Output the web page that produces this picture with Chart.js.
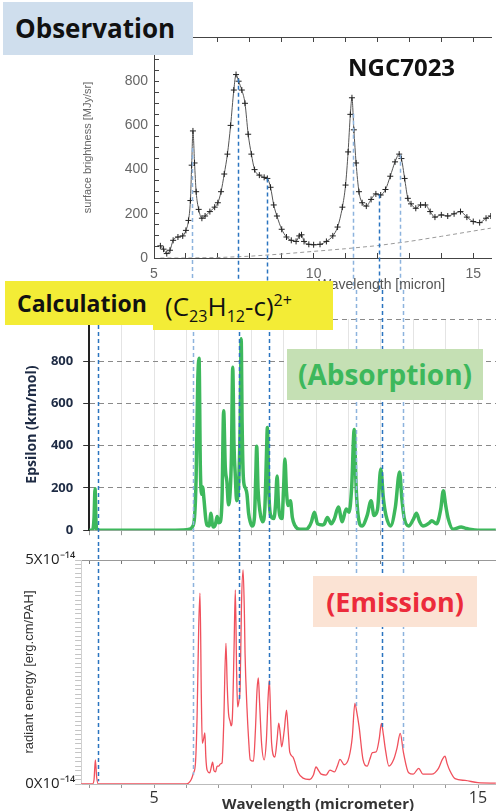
<!DOCTYPE html>
<html>
<head>
<meta charset="utf-8">
<script src="https://cdn.jsdelivr.net/npm/chart.js@4.4.1/dist/chart.umd.min.js"></script>
<style>
  html, body { margin: 0; padding: 0; background: #fff; }
  #page { position: relative; width: 496px; height: 811px; overflow: hidden; font-family: 'Open Sans', sans-serif; }
  canvas { position: absolute; left: 0; }
  .box { position: absolute; z-index: 5; box-sizing: border-box; white-space: nowrap; }
  .lbl { position: absolute; z-index: 3; white-space: nowrap; }
  sub, sup { font-size: 0.62em; line-height: 0; }
</style>
</head>
<body>
<div id="page">
  <canvas id="obsChart" width="496" height="290" style="top:0"></canvas>
  <canvas id="absChart" width="496" height="258" style="top:290px"></canvas>
  <canvas id="emiChart" width="496" height="263" style="top:548px"></canvas>

  <div class="lbl" style="left:318px; top:276px; font:14px 'Liberation Sans', Arial, sans-serif; color:#555;">Wavelength [micron]</div>
  <div class="lbl" style="left:222px; top:793px; font:bold 15px 'Open Sans', sans-serif; color:#333;">Wavelength (micrometer)</div>

  <div class="box" style="left:3px; top:2px; width:190px; height:53px; background:#cfdeed; font:bold 26px 'Open Sans'; line-height:53px; padding-left:12px; color:#111;">Observation</div>
  <div class="lbl" style="left:348px; top:50px; font:bold 24px 'Open Sans'; color:#111;">NGC7023</div>

  <div class="box" style="left:5px; top:281px; width:150px; height:44px; background:#f3ec36; font:bold 23px 'Open Sans'; line-height:44px; padding-left:12px; color:#111;">Calculation</div>
  <div class="box" style="left:153px; top:281px; width:180px; height:49px; background:#f3ec36; font:26px 'Open Sans'; line-height:50px; padding-left:12px; color:#111;">(C<sub>23</sub>H<sub>12</sub>-c)<sup>2+</sup></div>

  <div class="box" style="left:287px; top:349px; width:196px; height:51px; background:#c5e0b4; font:bold 28px 'Open Sans'; line-height:51px; text-align:center; color:#3db85c;">(Absorption)</div>
  <div class="box" style="left:313px; top:576px; width:164px; height:51px; background:#fbe3d4; font:bold 27px 'Open Sans'; line-height:51px; text-align:center; color:#ec2b3b;">(Emission)</div>
</div>

<script>
// ---- data ----
// observed spectrum NGC7023 (wavelength, MJy/sr)
const obsX = [5.2, 5.3, 5.4, 5.5, 5.6, 5.75, 5.9, 6.0, 6.08, 6.14, 6.18, 6.22, 6.27, 6.32, 6.4, 6.5, 6.6, 6.75, 6.9, 7.0,
  7.1, 7.2, 7.3, 7.4, 7.5, 7.57, 7.65, 7.75, 7.85, 7.95, 8.05, 8.15, 8.3, 8.45, 8.55, 8.65, 8.75, 8.85, 9.0, 9.15,
  9.3, 9.45, 9.55, 9.62, 9.7, 9.85, 10.0, 10.2, 10.4, 10.6, 10.75, 10.9, 11.0, 11.08, 11.15, 11.2, 11.26, 11.33, 11.42, 11.52,
  11.65, 11.8, 11.95, 12.1, 12.25, 12.4, 12.55, 12.68, 12.75, 12.85, 12.95, 13.05, 13.2, 13.35, 13.5, 13.65, 13.8, 14.0, 14.2, 14.4,
  14.6, 14.8, 15.0, 15.2, 15.4, 15.55];
const obsY = [55, 40, 20, 35, 80, 95, 100, 125, 170, 260, 420, 575, 430, 300, 220, 180, 190, 210, 230, 250,
  300, 380, 470, 600, 760, 830, 800, 760, 700, 560, 470, 400, 375, 365, 360, 320, 240, 190, 130, 95,
  80, 75, 100, 105, 75, 62, 60, 62, 75, 100, 140, 230, 330, 480, 650, 725, 580, 430, 300, 250,
  235, 265, 290, 285, 310, 370, 435, 470, 450, 360, 270, 245, 225, 240, 240, 210, 185, 195, 190, 200,
  210, 185, 165, 160, 180, 190];
// continuum (dashed)
const contX = [5.2, 6, 7, 8, 9, 10, 11, 12, 13, 14, 15, 15.55];
const contY = [0, 0, 2, 8, 18, 30, 42, 56, 75, 98, 122, 135];

// calculated absorption (km/mol)
const absX = [3.0, 3.1, 3.15, 3.18, 3.21, 3.25, 3.5, 4.5, 5.5, 6.0, 6.1, 6.18, 6.25, 6.3, 6.35, 6.39, 6.43, 6.47, 6.5, 6.54,
  6.6, 6.64, 6.7, 6.76, 6.8, 6.84, 6.9, 6.95, 7.0, 7.05, 7.1, 7.15, 7.2, 7.25, 7.3, 7.35, 7.39, 7.43, 7.47, 7.51,
  7.55, 7.58, 7.62, 7.66, 7.69, 7.72, 7.76, 7.82, 7.87, 7.92, 7.97, 8.03, 8.1, 8.14, 8.17, 8.21, 8.27, 8.35, 8.42, 8.47,
  8.5, 8.54, 8.6, 8.7, 8.75, 8.8, 8.84, 8.88, 8.95, 9.0, 9.04, 9.09, 9.14, 9.21, 9.27, 9.34, 9.5, 9.7, 9.8, 9.86,
  9.95, 10.05, 10.2, 10.26, 10.35, 10.47, 10.57, 10.69, 10.81, 10.93, 11.02, 11.1, 11.18, 11.24, 11.3, 11.42, 11.58, 11.7, 11.79, 11.9,
  12.0, 12.08, 12.16, 12.3, 12.45, 12.58, 12.65, 12.72, 12.86, 13.0, 13.1, 13.2, 13.3, 13.5, 13.57, 13.72, 13.85, 13.93, 14.0, 14.08,
  14.23, 14.48, 14.6, 14.79, 15.0, 15.55];
const absY = [0, 0, 60, 196, 40, 0, 0, 0, 0, 2, 5, 15, 60, 250, 700, 814, 300, 170, 205, 150,
  50, 23, 20, 80, 30, 15, 30, 65, 35, 40, 150, 565, 300, 230, 120, 180, 350, 772, 400, 257,
  140, 150, 250, 500, 907, 500, 243, 200, 170, 80, 40, 20, 60, 250, 398, 200, 89, 40, 100, 350,
  486, 200, 70, 55, 120, 257, 130, 70, 55, 200, 337, 180, 117, 140, 60, 25, 5, 5, 20, 40,
  85, 30, 25, 30, 60, 30, 55, 110, 40, 100, 85, 200, 477, 200, 70, 20, 70, 140, 70, 100,
  290, 150, 70, 20, 110, 276, 150, 60, 20, 50, 80, 40, 20, 35, 45, 30, 100, 187, 120, 55,
  5, 15, 10, 3, 0, 0];

// calculated emission (x 10^-14 erg/cm/PAH)
const emiX = [2.75, 3.1, 3.15, 3.19, 3.23, 3.28, 6.0, 6.15, 6.22, 6.28, 6.33, 6.38, 6.42, 6.46, 6.49, 6.53, 6.57, 6.6, 6.64, 6.72,
  6.76, 6.81, 6.85, 6.9, 6.95, 7.0, 7.05, 7.1, 7.15, 7.22, 7.26, 7.3, 7.35, 7.38, 7.42, 7.47, 7.51, 7.55, 7.58, 7.62,
  7.66, 7.7, 7.75, 7.79, 7.81, 7.87, 7.92, 7.97, 8.07, 8.13, 8.18, 8.22, 8.26, 8.32, 8.4, 8.47, 8.52, 8.56, 8.6, 8.63,
  8.73, 8.8, 8.85, 8.9, 8.94, 9.02, 9.09, 9.14, 9.19, 9.29, 9.44, 9.6, 9.8, 9.92, 10.0, 10.08, 10.16, 10.31, 10.43, 10.57,
  10.66, 10.74, 10.87, 11.02, 11.12, 11.2, 11.26, 11.33, 11.45, 11.58, 11.66, 11.74, 11.86, 11.95, 12.02, 12.08, 12.13, 12.25, 12.4, 12.5,
  12.6, 12.7, 12.86, 13.0, 13.17, 13.3, 13.57, 13.78, 13.9, 13.98, 14.05, 14.13, 14.29, 14.6, 15.0, 15.55];
const emiY = [0, 0, 0.1, 0.54, 0.15, 0, 0, 0.1, 0.25, 0.47, 1.5, 3.5, 4.26, 2.0, 0.91, 1.0, 1.14, 0.6, 0.31, 0.25,
  0.35, 0.49, 0.3, 0.27, 0.4, 0.4, 0.45, 0.47, 1.3, 3.14, 2.2, 1.58, 1.4, 1.3, 1.5, 3.0, 4.33, 2.5, 1.72, 1.85,
  2.2, 4.0, 4.78, 3.8, 2.92, 1.69, 1.0, 0.54, 0.51, 1.2, 2.1, 2.37, 1.8, 0.91, 0.54, 1.0, 1.9, 2.32, 1.5, 0.91,
  0.6, 1.0, 1.36, 1.1, 0.83, 1.2, 1.65, 1.2, 0.71, 0.6, 0.27, 0.13, 0.1, 0.2, 0.38, 0.3, 0.22, 0.2, 0.31, 0.27,
  0.4, 0.55, 0.43, 0.6, 1.05, 1.8, 1.6, 1.28, 0.55, 0.4, 0.55, 0.7, 0.72, 1.0, 1.35, 1.1, 0.83, 0.4, 0.55, 0.8,
  1.13, 0.7, 0.25, 0.22, 0.35, 0.22, 0.22, 0.35, 0.55, 0.62, 0.45, 0.3, 0.12, 0.08, 0.03, 0.02];

// PAH band positions (micron) marked by the blue dashed lines
const bandWavelengths = [3.26, 6.2, 7.62, 8.55, 11.23, 12.04, 12.69];

// tick labels
const obsXTickLabels = [5, 10, 15];
const emiXTickLabels = [5, 15];
const obsYTickLabels = [0, 200, 400, 600, 800];
const absYTickLabels = [0, 200, 400, 600, 800];
const emiYTickValues = [0, 5];
const emiYTickLabels = ['0X10\u207B\u00B9\u2074', '5X10\u207B\u00B9\u2074'];

// ---- layout: shared wavelength -> pixel mapping so the three panels line up ----
const X5_PX = 154, PX_PER_UM = 32.4, PAGE_W = 496;
const X_MAX = 5 + (PAGE_W - X5_PX) / PX_PER_UM;
const leftFor = (xmin) => X5_PX + (xmin - 5) * PX_PER_UM;
const lightBands = [6.2, 11.23, 12.69];

const pts = (xs, ys) => xs.map((x, i) => ({ x: x, y: ys[i] }));
function ticksFrom(start, end, step) {
  const t = [];
  for (let v = start; v <= end + 1e-9; v += step) t.push({ value: Math.round(v * 1000) / 1000 });
  return t;
}
function curveAt(xs, ys, w) {
  for (let i = 1; i < xs.length; i++) {
    if (w <= xs[i]) {
      const f = (w - xs[i - 1]) / (xs[i] - xs[i - 1]);
      return ys[i - 1] + f * (ys[i] - ys[i - 1]);
    }
  }
  return ys[ys.length - 1];
}

// vertical dashed band lines
const bandLines = {
  id: 'bandLines',
  afterDatasetsDraw(chart, args, opts) {
    const { ctx, scales: { x, y } } = chart;
    ctx.save();
    ctx.lineWidth = 1.5;
    ctx.setLineDash([4, 3]);
    bandWavelengths.forEach((w) => {
      if (w < x.min || w > x.max) return;
      const px = Math.round(x.getPixelForValue(w)) + 0.5;
      let y1 = 0, y2 = chart.height;
      if (opts.from === 'curve') y1 = y.getPixelForValue(curveAt(opts.cx, opts.cy, w));
      if (opts.to === 'curve') y2 = y.getPixelForValue(curveAt(opts.cx, opts.cy, w));
      ctx.strokeStyle = lightBands.includes(w) ? '#8db3dd' : '#2b74c0';
      ctx.beginPath();
      ctx.moveTo(px, y1);
      ctx.lineTo(px, y2);
      ctx.stroke();
    });
    ctx.restore();
  }
};

Chart.defaults.animation = false;
Chart.defaults.responsive = false;
Chart.defaults.devicePixelRatio = 1;
Chart.defaults.plugins.legend.display = false;
Chart.defaults.plugins.tooltip.enabled = false;

// ---- chart 1: observation ----
const gray = "'Liberation Sans', Arial, sans-serif";
new Chart(document.getElementById('obsChart'), {
  type: 'scatter',
  data: {
    datasets: [
      {
        data: pts(contX, contY), showLine: true, borderColor: '#9a9a9a', borderWidth: 1,
        borderDash: [4, 3], pointRadius: 0
      },
      {
        data: pts(obsX, obsY), showLine: true, borderColor: '#555', borderWidth: 1,
        pointStyle: 'cross', pointRadius: 3, pointBorderColor: '#222', pointBorderWidth: 1,
        cubicInterpolationMode: 'monotone'
      }
    ]
  },
  options: {
    layout: { padding: { top: 37, left: 0, right: 0, bottom: 0 } },
    scales: {
      x: {
        type: 'linear', min: 5, max: X_MAX,
        afterBuildTicks: (s) => { s.ticks = ticksFrom(5, 15, 1); },
        afterFit: (s) => { s.height = 32; },
        grid: { drawOnChartArea: false, tickLength: -5, color: '#444' },
        border: { color: '#444' },
        ticks: {
          autoSkip: false, maxRotation: 0, padding: 13, color: '#666', font: { family: gray, size: 14 },
          callback: (v) => (obsXTickLabels.includes(v) ? String(v) : '')
        }
      },
      xTop: {
        type: 'linear', position: 'top', min: 5, max: X_MAX,
        afterBuildTicks: (s) => { s.ticks = ticksFrom(5, 15, 1); },
        afterFit: (s) => { s.height = 0; },
        grid: { drawOnChartArea: false, tickLength: -5, color: '#444' },
        border: { color: '#444' },
        ticks: { display: false }
      },
      y: {
        min: 0, max: 1000,
        afterBuildTicks: (s) => { s.ticks = ticksFrom(0, 950, 50); },
        afterFit: (s) => { s.width = leftFor(5); },
        grid: { drawOnChartArea: false, tickLength: -5, color: '#444' },
        border: { color: '#444' },
        title: {
          display: true, text: 'surface brightness [MJy/sr]', color: '#666',
          font: { family: gray, size: 11 }, padding: { top: 81, bottom: 0 }
        },
        ticks: {
          autoSkip: false, padding: 11, color: '#666', font: { family: gray, size: 14 },
          callback: (v) => (obsYTickLabels.includes(v) ? String(v) : '')
        }
      }
    },
    plugins: { bandLines: { from: 'curve', cx: obsX, cy: obsY } }
  },
  plugins: [bandLines]
});

// ---- chart 2: calculated absorption ----
new Chart(document.getElementById('absChart'), {
  type: 'scatter',
  data: {
    datasets: [{
      data: pts(absX, absY), showLine: true, borderColor: '#3db85c', borderWidth: 3.5,
      pointRadius: 0, cubicInterpolationMode: 'monotone', borderJoinStyle: 'round'
    }]
  },
  options: {
    layout: { padding: { top: 29, left: 0, right: 0, bottom: 0 } },
    scales: {
      x: {
        type: 'linear', min: 3, max: X_MAX,
        afterBuildTicks: (s) => { s.ticks = ticksFrom(3, 15, 1); },
        afterFit: (s) => { s.height = 16; },
        grid: { color: '#e4e4e4', tickColor: '#999', tickLength: 5 },
        border: { color: '#aaa' },
        ticks: { display: false }
      },
      y: {
        min: 0, max: 1000,
        afterBuildTicks: (s) => { s.ticks = ticksFrom(0, 1000, 200); },
        afterFit: (s) => { s.width = leftFor(3); },
        grid: { color: '#8a8a8a', tickColor: '#333', tickLength: 6 },
        border: { color: '#222', width: 2, dash: [5, 4] },
        title: {
          display: true, text: 'Epsilon (km/mol)', color: '#1e2b44',
          font: { family: 'Open Sans', size: 14, weight: 'bold' }, padding: { top: 24, bottom: 0 }
        },
        ticks: {
          autoSkip: false, padding: 10, color: '#1e2b44', font: { family: 'Open Sans', size: 13, weight: 'bold' },
          callback: (v) => (absYTickLabels.includes(v) ? String(v) : '')
        }
      }
    },
    plugins: { bandLines: {} }
  },
  plugins: [bandLines]
});

// ---- chart 3: calculated emission ----
new Chart(document.getElementById('emiChart'), {
  type: 'scatter',
  data: {
    datasets: [{
      data: pts(emiX, emiY), showLine: true, borderColor: '#f0505c', borderWidth: 1.3,
      pointRadius: 0, cubicInterpolationMode: 'monotone'
    }]
  },
  options: {
    layout: { padding: { top: 12, left: 0, right: 0, bottom: 0 } },
    scales: {
      x: {
        type: 'linear', min: 2.75, max: X_MAX,
        afterBuildTicks: (s) => { s.ticks = ticksFrom(3, 15, 1); },
        afterFit: (s) => { s.height = 27; },
        grid: { drawOnChartArea: false, tickLength: 4, color: '#999' },
        border: { color: '#bbb' },
        ticks: {
          autoSkip: false, maxRotation: 0, padding: 1, color: '#333', font: { family: 'Open Sans', size: 16 },
          callback: (v) => (emiXTickLabels.includes(v) ? String(v) : '')
        }
      },
      xTop: {
        type: 'linear', position: 'top', min: 2.75, max: X_MAX,
        afterBuildTicks: (s) => { s.ticks = ticksFrom(3, 15, 1); },
        afterFit: (s) => { s.height = 0; },
        grid: { drawOnChartArea: false, tickLength: -4, color: '#777' },
        border: { color: '#999' },
        ticks: { display: false }
      },
      y: {
        min: 0, max: 5,
        afterBuildTicks: (s) => { s.ticks = ticksFrom(0, 5, 0.1); },
        afterFit: (s) => { s.width = leftFor(2.75); },
        grid: { drawOnChartArea: false, tickLength: 6, color: '#c4c4c4' },
        border: { color: '#d0d0d0' },
        title: {
          display: true, text: 'radiant energy [erg.cm/PAH]', color: '#333',
          font: { family: gray, size: 13 }, padding: { top: 22, bottom: 0 }
        },
        ticks: {
          autoSkip: false, padding: 0, color: '#222', font: { family: 'Open Sans', size: 15 },
          callback: (v) => {
            const i = emiYTickValues.indexOf(v);
            return i >= 0 ? emiYTickLabels[i] : '';
          }
        }
      }
    },
    plugins: { bandLines: { to: 'curve', cx: emiX, cy: emiY } }
  },
  plugins: [bandLines]
});
</script>
</body>
</html>
